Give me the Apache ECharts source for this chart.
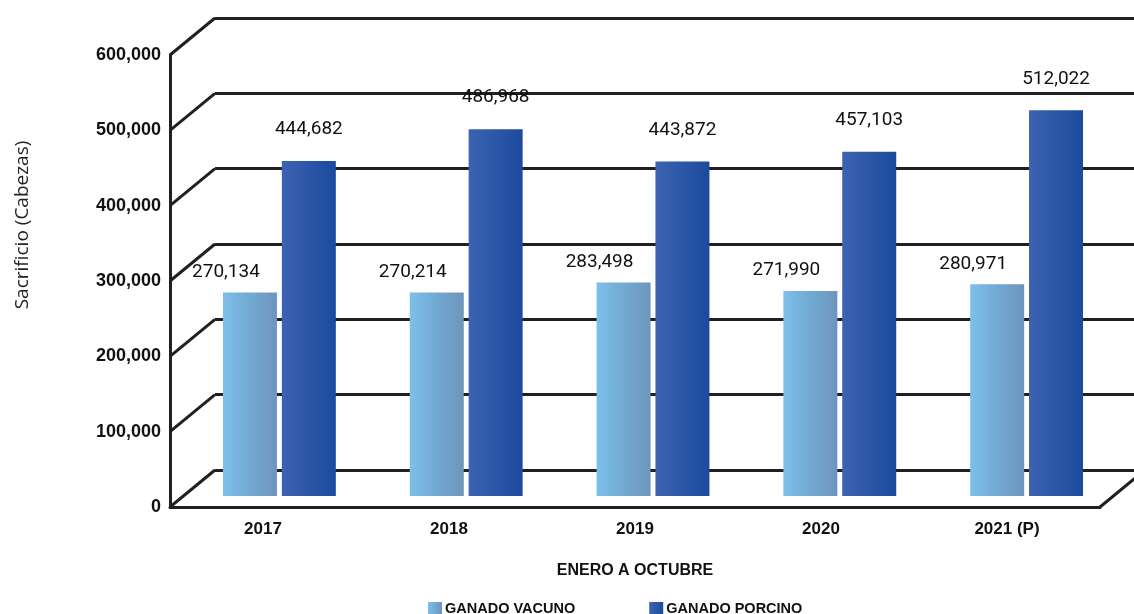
<!DOCTYPE html>
<html>
<head>
<meta charset="utf-8">
<script src="https://cdn.jsdelivr.net/npm/echarts@6/dist/echarts.min.js"></script>
<style>html,body{margin:0;padding:0;background:#fff}#c{width:1134px;height:614px}</style>
</head>
<body>
<div id="c"></div>
<script>
const CATEGORIES = ['2017', '2018', '2019', '2020', '2021 (P)'];
const VACUNO = [270134, 270214, 283498, 271990, 280971];
const PORCINO = [444682, 486968, 443872, 457103, 512022];
const SERIES_NAMES = ['GANADO VACUNO', 'GANADO PORCINO'];
const Y_TICKS = [0, 100000, 200000, 300000, 400000, 500000, 600000];
const Y_TITLE = 'Sacrificio (Cabezas)';
const X_TITLE = 'ENERO A OCTUBRE';

// layout (pixels)
const FRONT = {left: 170, right: 34, top: 55, bottom: 107};
const BACK = {left: 215, right: 0, top: 18, bottom: 144};
const BARS = {left: 186, right: 14, top: 44, bottom: 118};
const DX = BACK.left - FRONT.left;
const DY = FRONT.top - BACK.top;
const INK = '#231f20';
const LABEL_FONT = "Roboto, 'DejaVu Sans Condensed', sans-serif";

const fmt = v => String(v).replace(/\B(?=(\d{3})+(?!\d))/g, ',');

const chart = echarts.init(document.getElementById('c'), null, {renderer: 'canvas'});

const yBase = {type: 'value', min: 0, max: 600000, interval: 100000};

chart.setOption({
  animation: false,
  backgroundColor: '#fff',
  grid: [
    Object.assign({}, BACK),
    Object.assign({}, FRONT),
    Object.assign({}, BARS)
  ],
  xAxis: [
    {gridIndex: 0, type: 'category', data: CATEGORIES, show: false},
    {gridIndex: 1, type: 'category', data: CATEGORIES,
      axisLine: {show: true, lineStyle: {color: INK, width: 3}},
      axisTick: {show: false},
      axisLabel: {margin: 14, color: '#111', fontFamily: 'Liberation Sans, Arial, sans-serif', fontWeight: 'bold', fontSize: 17},
      name: X_TITLE, nameLocation: 'middle', nameGap: 56,
      nameTextStyle: {color: '#111', fontFamily: 'Liberation Sans, Arial, sans-serif', fontWeight: 'bold', fontSize: 16}
    },
    {gridIndex: 2, type: 'category', data: CATEGORIES, show: false}
  ],
  yAxis: [
    Object.assign({gridIndex: 0, axisLine: {show: false}, axisTick: {show: false}, axisLabel: {show: false},
      splitLine: {show: true, lineStyle: {color: INK, width: 3}}}, yBase),
    Object.assign({gridIndex: 1,
      axisLine: {show: true, lineStyle: {color: INK, width: 3}},
      axisTick: {show: false},
      splitLine: {show: false},
      axisLabel: {margin: 9, color: '#111', fontFamily: 'Liberation Sans, Arial, sans-serif', fontWeight: 'bold', fontSize: 18, formatter: fmt},
      name: Y_TITLE, nameLocation: 'middle', nameRotate: 90, nameGap: 138,
      nameTextStyle: {color: '#222', fontFamily: "'Open Sans', sans-serif", fontSize: 19, padding: [0, 0, 0, 112]}
    }, yBase),
    Object.assign({gridIndex: 2, show: false, splitLine: {show: false}}, yBase)
  ],
  legend: {
    data: SERIES_NAMES,
    left: 428, top: 601, padding: 0,
    icon: 'rect', itemWidth: 14, itemHeight: 13, itemGap: 74,
    textStyle: {color: '#111', fontFamily: 'Liberation Sans, Arial, sans-serif', fontWeight: 'bold', fontSize: 14.5, padding: [0, 0, 0, -2]}
  },
  series: [
    {
      type: 'custom', xAxisIndex: 1, yAxisIndex: 1, z: 1, silent: true,
      data: Y_TICKS.map(v => [0, v]),
      encode: {x: 0, y: 1},
      renderItem: function (params, api) {
        const y = api.coord([0, api.value(1)])[1];
        const x0 = params.coordSys.x;
        const style = {stroke: INK, lineWidth: 3, fill: null};
        const children = [{type: 'line', shape: {x1: x0, y1: y, x2: x0 + DX, y2: y - DY}, style: style}];
        if (api.value(1) === 0) {
          const x1 = x0 + params.coordSys.width;
          children.push({type: 'line', shape: {x1: x1, y1: y, x2: x1 + DX, y2: y - DY}, style: style});
        }
        return {type: 'group', children: children};
      }
    },
    {
      name: SERIES_NAMES[0], type: 'bar', xAxisIndex: 2, yAxisIndex: 2, z: 3,
      data: VACUNO, barWidth: 54, barGap: '9%',
      itemStyle: {color: new echarts.graphic.LinearGradient(0, 0, 1, 0, [
        {offset: 0, color: '#7cc0ea'}, {offset: 0.5, color: '#72a9d2'}, {offset: 1, color: '#6d95bc'}])},
      label: {show: true, position: 'top', distance: 11, offset: [-24, 0], formatter: p => fmt(p.value),
        color: '#111', fontFamily: LABEL_FONT, fontSize: 19}
    },
    {
      name: SERIES_NAMES[1], type: 'bar', xAxisIndex: 2, yAxisIndex: 2, z: 3,
      data: PORCINO, barWidth: 54, barGap: '9%',
      itemStyle: {color: new echarts.graphic.LinearGradient(0, 0, 1, 0, [
        {offset: 0, color: '#3c63b1'}, {offset: 1, color: '#1b4a9d'}])},
      label: {show: true, position: 'top', distance: 22, formatter: p => fmt(p.value),
        color: '#111', fontFamily: LABEL_FONT, fontSize: 19}
    }
  ]
});
</script>
</body>
</html>
